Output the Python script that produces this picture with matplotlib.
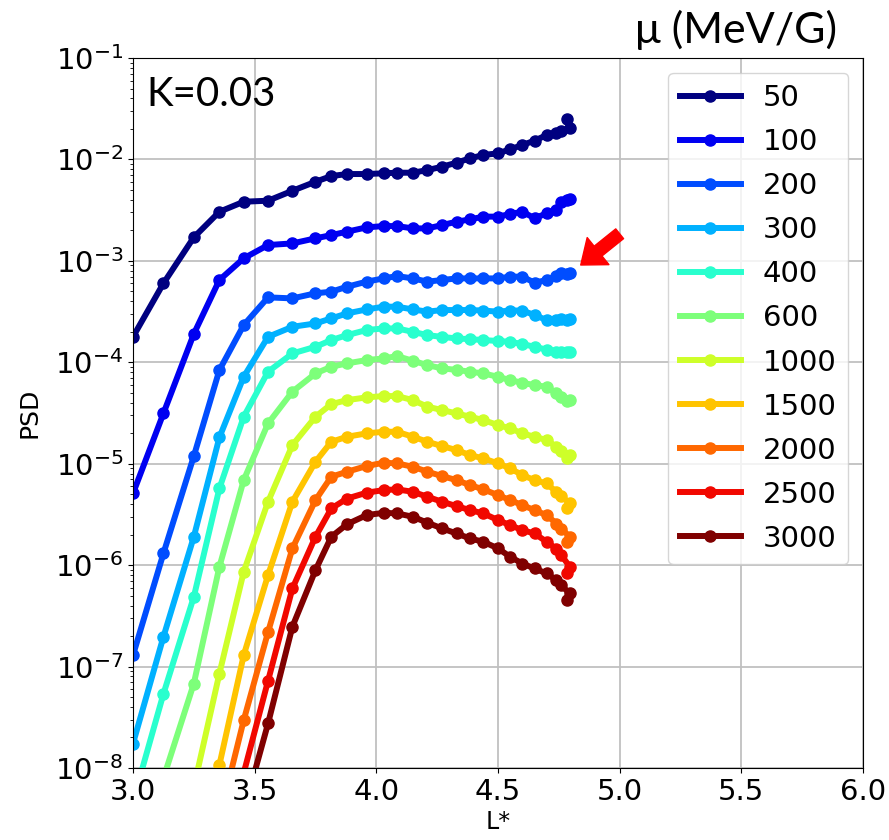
import numpy as np
import matplotlib
matplotlib.use("Agg")
import matplotlib.pyplot as plt
from matplotlib.ticker import NullFormatter, LogLocator

# L* grid (common to all curves)
L = [3.0, 3.125, 3.25, 3.355, 3.455, 3.555, 3.655, 3.75, 3.815, 3.88, 3.96, 4.03,
     4.085, 4.15, 4.21, 4.27, 4.33, 4.385, 4.44, 4.50, 4.55, 4.60, 4.65, 4.70,
     4.74, 4.76, 4.795, 4.785]

mu_labels = ["50", "100", "200", "300", "400", "600", "1000", "1500", "2000", "2500", "3000"]

nan = np.nan
# log10(PSD)
psd_log_50 = [-3.749, -3.222, -2.768, -2.516, -2.417, -2.407, -2.309, -2.22, -2.164, -2.144, -2.144, -2.137,
              -2.131, -2.131, -2.105, -2.072, -2.032, -1.989, -1.956, -1.94, -1.90, -1.858, -1.815, -1.76,
              -1.735, -1.72, -1.69, -1.60]
psd_log_100 = [-5.293, -4.504, -3.72, -3.189, -2.975, -2.844, -2.828, -2.778, -2.746, -2.712, -2.67, -2.657,
               -2.657, -2.68, -2.68, -2.647, -2.614, -2.591, -2.564, -2.564, -2.538, -2.515, -2.58, -2.532,
               -2.499, -2.417, -2.394, -2.40]
psd_log_200 = [-6.888, -5.885, -4.925, -4.077, -3.633, -3.36, -3.37, -3.32, -3.304, -3.255, -3.205, -3.173,
               -3.15, -3.173, -3.205, -3.189, -3.173, -3.173, -3.173, -3.173, -3.156, -3.156, -3.215, -3.189,
               -3.15, -3.117, -3.123, -3.13]
psd_log_300 = [-7.759, -6.707, -5.72, -4.741, -4.143, -3.749, -3.65, -3.617, -3.567, -3.518, -3.479, -3.452,
               -3.452, -3.479, -3.501, -3.485, -3.485, -3.485, -3.49, -3.501, -3.49, -3.49, -3.534, -3.584,
               -3.584, -3.575, -3.577, -3.58]
psd_log_400 = [-8.33, -7.27, -6.312, -5.244, -4.537, -4.093, -3.913, -3.847, -3.781, -3.732, -3.682, -3.666,
               -3.666, -3.70, -3.732, -3.75, -3.765, -3.772, -3.781, -3.79, -3.798, -3.82, -3.847, -3.875,
               -3.896, -3.896, -3.896, -3.90]
psd_log_600 = [nan, -8.1, -7.167, -6.017, -5.162, -4.603, -4.29, -4.11, -4.044, -4.011, -3.978, -3.962,
               -3.939, -3.985, -4.028, -4.06, -4.075, -4.093, -4.11, -4.143, -4.176, -4.202, -4.225, -4.241,
               -4.307, -4.34, -4.373, -4.38]
psd_log_1000 = [nan, nan, -8.19, -7.07, -6.066, -5.375, -4.817, -4.537, -4.412, -4.373, -4.346, -4.333,
                -4.333, -4.373, -4.438, -4.471, -4.504, -4.537, -4.57, -4.619, -4.652, -4.701, -4.734, -4.767,
                -4.833, -4.87, -4.915, -4.948]
psd_log_1500 = [nan, nan, nan, -7.97, -6.888, -6.099, -5.375, -4.98, -4.784, -4.734, -4.701, -4.685,
                -4.685, -4.734, -4.784, -4.826, -4.866, -4.915, -4.948, -4.997, -5.046, -5.112, -5.162, -5.194,
                -5.28, -5.32, -5.392, -5.441]
psd_log_2000 = [nan, nan, nan, -8.5, -7.529, -6.66, -5.835, -5.359, -5.128, -5.079, -5.023, -4.99,
                -4.997, -5.03, -5.079, -5.122, -5.162, -5.211, -5.253, -5.31, -5.359, -5.408, -5.458, -5.507,
                -5.59, -5.64, -5.72, -5.77]
psd_log_2500 = [nan, nan, nan, nan, -8.05, -7.14, -6.23, -5.72, -5.441, -5.343, -5.286, -5.26,
                -5.253, -5.277, -5.326, -5.375, -5.418, -5.458, -5.49, -5.556, -5.606, -5.655, -5.688, -5.77,
                -5.84, -5.90, -6.017, -6.082]
psd_log_3000 = [nan, nan, nan, nan, -8.43, -7.561, -6.607, -6.049, -5.72, -5.596, -5.507, -5.484,
                -5.49, -5.523, -5.582, -5.638, -5.688, -5.737, -5.77, -5.835, -5.918, -5.984, -6.033, -6.082,
                -6.148, -6.20, -6.279, -6.345]

series = [psd_log_50, psd_log_100, psd_log_200, psd_log_300, psd_log_400, psd_log_600,
          psd_log_1000, psd_log_1500, psd_log_2000, psd_log_2500, psd_log_3000]

x_ticks = [3.0, 3.5, 4.0, 4.5, 5.0, 5.5, 6.0]
y_ticks = [1e-8, 1e-7, 1e-6, 1e-5, 1e-4, 1e-3, 1e-2, 1e-1]

plt.rcParams['font.family'] = ['DejaVu Sans']
FS = 21

fig = plt.figure(figsize=(8.89, 8.40), dpi=100)
ax = fig.add_axes([133/889, 1-768/840, (863-133)/889, (768-58)/840])

colors = plt.cm.jet(np.linspace(0, 1, len(series)))
for lab, s, c in zip(mu_labels, series, colors):
    ax.plot(L, 10**np.array(s), '-o', color=c, lw=4.3, ms=8, label=lab)

ax.set_yscale('log')
ax.set_xlim(3.0, 6.0)
ax.set_ylim(1e-8, 1e-1)
ax.set_xticks(x_ticks)
ax.set_yticks(y_ticks)
ax.yaxis.set_minor_locator(LogLocator(base=10, subs=np.arange(2, 10), numticks=20))
ax.yaxis.set_minor_formatter(NullFormatter())
ax.grid(True, which='major', color='#c0c0c0', lw=1.3)
ax.set_axisbelow(True)
ax.tick_params(labelsize=FS)
ax.set_xlabel('L*', fontsize=17, labelpad=0)
ax.set_ylabel('PSD', fontsize=18)
ax.xaxis.set_label_coords(0.5, -0.059)
ax.yaxis.set_label_coords(-0.125, 0.5)

leg = ax.legend(loc='upper right', fontsize=FS, handlelength=2.1, labelspacing=0.55,
                handletextpad=0.75)

ax.text(0.018, 0.975, 'K=0.03', transform=ax.transAxes, fontsize=29,
        family='Lato', ha='left', va='top')
fig.text(736/889, 1-30/840, 'μ (MeV/G)', fontsize=31, family='Lato',
         ha='center', va='center')

ax.annotate('', xy=(4.84, 9.1e-4), xytext=(5.0, 1.85e-3),
            arrowprops=dict(arrowstyle='simple,head_length=0.8,head_width=1.25,tail_width=0.45',
                            mutation_scale=20, color='red', shrinkA=0, shrinkB=0),
            annotation_clip=False)

fig.savefig('out.png', dpi=100)
